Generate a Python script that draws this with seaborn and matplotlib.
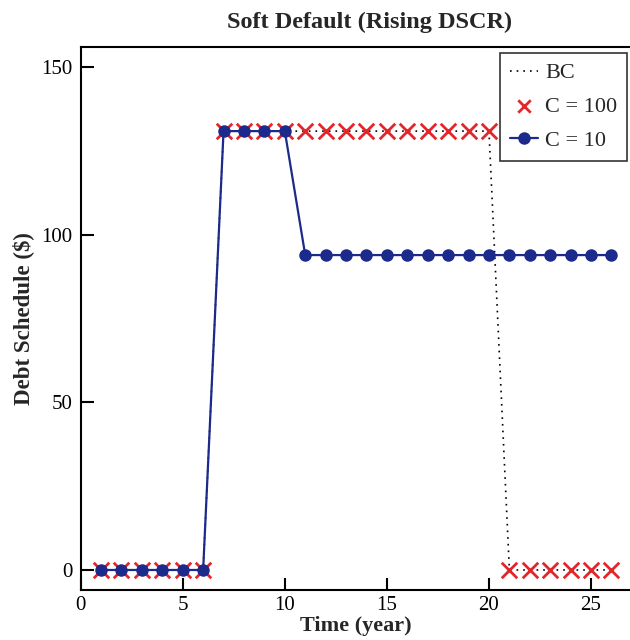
import matplotlib
matplotlib.use("Agg")
import matplotlib.pyplot as plt
import seaborn as sns
import pandas as pd

years = list(range(1, 27))
bc_values = [0]*6 + [131]*14 + [0]*6
c100_values = [0]*6 + [131]*14 + [0]*6
c10_values = [0]*6 + [131]*4 + [94]*16

sns.set_theme(style="ticks")
plt.rcParams['font.family'] = ['Liberation Serif', 'DejaVu Serif']

df = pd.DataFrame({"year": years, "bc": bc_values, "c100": c100_values, "c10": c10_values})

fig = plt.figure(figsize=(6.3, 6.4), dpi=100)
ax = fig.add_axes([0.128, 0.078, 0.875, 0.848])

blue = "#1c2a8c"
red = "#e3262b"

sns.lineplot(data=df, x="year", y="bc", ax=ax, color="black", linestyle=(0, (1, 3)),
             linewidth=1.2, label="BC")
sns.scatterplot(data=df, x="year", y="c100", ax=ax, color=red, marker="x", s=125,
                linewidth=2.0, label="C = 100", zorder=3)
sns.lineplot(data=df, x="year", y="c10", ax=ax, color=blue, linewidth=1.6,
             marker="o", markersize=9, markeredgewidth=0, label="C = 10", zorder=4)

ax.set_xlim(0, 27)
ax.set_ylim(-6, 156)
ax.set_xticks([0, 5, 10, 15, 20, 25])
ax.set_yticks([0, 50, 100, 150])
ax.tick_params(direction="in", length=9, width=1.5, labelsize=15, colors="black", pad=6)
ax.tick_params(axis="x", pad=4)
for s in ax.spines.values():
    s.set_linewidth(1.5)
    s.set_color("black")

ax.set_xlabel("Time (year)", fontsize=16, fontweight="bold", labelpad=1)
ax.set_ylabel("Debt Schedule ($)", fontsize=16.5, fontweight="bold", labelpad=5)
ax.set_title("Soft Default (Rising DSCR)", fontsize=17.5, fontweight="bold", pad=14, x=0.525)

leg = ax.legend(loc="upper right", fontsize=16, frameon=True, fancybox=False,
                edgecolor="black", handlelength=1.25, borderpad=0.45,
                labelspacing=0.6, handletextpad=0.35, borderaxespad=0,
                bbox_to_anchor=(0.992, 0.99))
leg.get_frame().set_linewidth(1.2)
for h in leg.legend_handles:
    try:
        h.set_sizes([80])
    except AttributeError:
        pass

fig.savefig("out.png", dpi=100)
